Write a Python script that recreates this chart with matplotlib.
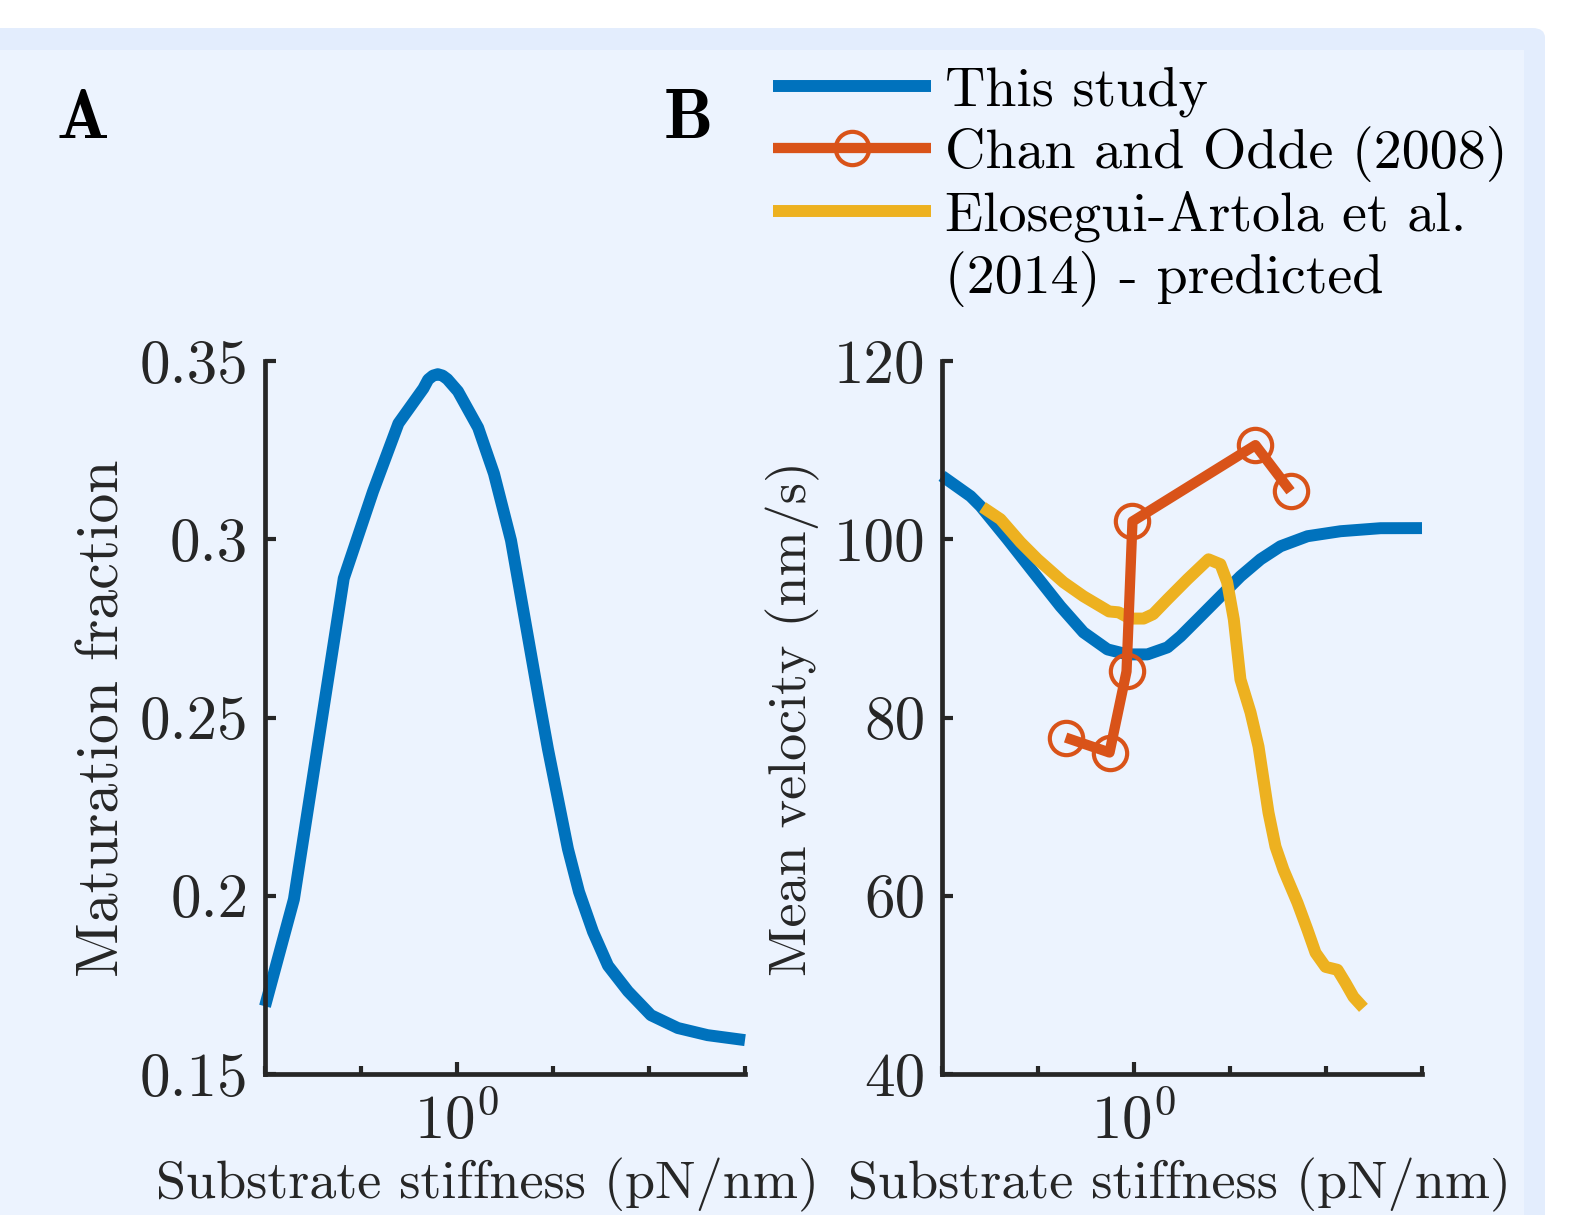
import numpy as np
import matplotlib
matplotlib.use("Agg")
import matplotlib.pyplot as plt
from matplotlib.patches import FancyBboxPatch, Rectangle
from matplotlib.lines import Line2D
from matplotlib.ticker import FixedLocator, FixedFormatter, NullFormatter

# ---------------- data ----------------
# Panel A: maturation fraction vs substrate stiffness (pN/nm)
a_stiffness = [0.01, 0.020, 0.0661, 0.1334, 0.2455, 0.4467, 0.501, 0.562, 0.631,
               0.708, 0.794, 1.023, 1.66, 2.427, 3.65, 7.15, 8.87, 11.27, 14.32,
               18.66, 26.1, 37.4, 60.4, 104.7, 199.5, 407, 1000]
a_fraction = [0.169, 0.199, 0.289, 0.3134, 0.3325, 0.3423, 0.3448, 0.3459, 0.3463,
              0.3459, 0.3449, 0.3415, 0.3313, 0.3184, 0.2997, 0.255, 0.2411, 0.2271,
              0.2131, 0.2011, 0.1899, 0.1804, 0.1732, 0.1665, 0.1629, 0.1609, 0.1595]

# Panel B: mean velocity (nm/s)
study_stiffness = [0.01, 0.01982, 0.02518, 0.04808, 0.08974, 0.1714, 0.2979, 0.5297,
                   0.8551, 1.380, 2.234, 3.048, 4.932, 7.962, 12.85, 20.80, 33.57,
                   64.12, 141.6, 369.8, 1000]
study_velocity = [107.1, 104.83, 103.71, 100.0, 96.29, 92.47, 89.55, 87.64, 87.08,
                  87.08, 87.87, 89.10, 91.35, 93.60, 95.84, 97.75, 99.21, 100.34,
                  100.90, 101.24, 101.25]

chan_stiffness = [0.194, 0.556, 0.836, 0.964, 18.4, 42.7]
chan_velocity = [77.75, 76.07, 85.17, 102.0, 110.56, 105.39]

elo_stiffness = [0.02642, 0.04064, 0.06577, 0.09886, 0.1845, 0.2979, 0.5495, 0.6918,
                 0.912, 1.259, 1.585, 2.234, 3.606, 5.970, 7.943, 9.333, 10.96,
                 12.85, 16.37, 19.82, 22.34, 25.18, 29.79, 36.06, 50.47, 64.12,
                 77.80, 98.86, 131.8, 159.6, 193.2, 245.5]
elo_velocity = [103.6, 102.25, 99.66, 97.75, 95.17, 93.60, 91.9, 91.8,
                91.1, 91.1, 91.6, 93.26, 95.51, 97.75, 97.2, 95.2, 91.0,
                84.27, 80.56, 76.74, 73.03, 69.33, 65.51, 62.92, 59.21, 56.18,
                53.60, 52.02, 51.69, 50.22, 48.65, 47.42]

labels = ["This study", "Chan and Odde (2008)", "Elosegui-Artola et al.",
          "(2014) - predicted"]
a_yticks = [0.15, 0.2, 0.25, 0.3, 0.35]
a_yticklabels = ["0.15", "0.2", "0.25", "0.3", "0.35"]
b_yticks = [40, 60, 80, 100, 120]
b_yticklabels = ["40", "60", "80", "100", "120"]
xlabel = "Substrate stiffness (pN/nm)"

# ---------------- style ----------------
plt.rcParams["font.family"] = ["cmr10", "DejaVu Serif"]
plt.rcParams["mathtext.fontset"] = "cm"
plt.rcParams["axes.unicode_minus"] = False

BLUE = "#0072BD"
ORANGE = "#D95319"
YELLOW = "#EDB120"
DARK = "#262626"
W, H = 1578, 1215
DPI = 100

fig = plt.figure(figsize=(W / DPI, H / DPI), dpi=DPI)
fig.patch.set_facecolor("white")

# background panels
outer = FancyBboxPatch((-0.05, -0.05), 0.05 + 1545 / W, 1.05 - 28 / H,
                       boxstyle="round,pad=0,rounding_size=0.008",
                       transform=fig.transFigure, facecolor="#E3EDFD",
                       edgecolor="none", zorder=-10)
fig.add_artist(outer)
inner = Rectangle((-0.05, -0.05), 0.05 + 1524 / W, 1.05 - 50 / H,
                  transform=fig.transFigure, facecolor="#ECF3FE",
                  edgecolor="none", zorder=-9)
fig.add_artist(inner)

LW = 8.6
TICK_FS = 44
LAB_FS = 39
AX_TOP, AX_BOT = 361, 1074


def make_axes(left_px, right_px):
    ax = fig.add_axes([left_px / W, 1 - AX_BOT / H, (right_px - left_px) / W,
                       (AX_BOT - AX_TOP) / H])
    ax.set_facecolor("none")
    ax.set_xscale("log")
    ax.set_xlim(1e-2, 1e3)
    for s in ["top", "right"]:
        ax.spines[s].set_visible(False)
    for s in ["left", "bottom"]:
        ax.spines[s].set_linewidth(3.4)
        ax.spines[s].set_color(DARK)
        ax.spines[s].set_capstyle("projecting")
    ax.xaxis.set_major_locator(FixedLocator([1.0]))
    ax.xaxis.set_major_formatter(FixedFormatter([r"$10^0$"]))
    ax.xaxis.set_minor_locator(FixedLocator([1e-2, 1e-1, 1e1, 1e2, 1e3]))
    ax.xaxis.set_minor_formatter(NullFormatter())
    ax.tick_params(axis="x", which="major", direction="in", length=9, width=3,
                   colors=DARK, labelsize=TICK_FS, pad=14)
    ax.tick_params(axis="x", which="minor", direction="in", length=6, width=3,
                   colors=DARK)
    ax.tick_params(axis="y", which="major", direction="in", length=8, width=3,
                   colors=DARK, labelsize=TICK_FS, pad=12)
    ax.set_xlabel(xlabel, fontsize=LAB_FS, color=DARK)
    return ax


def ylab_y():
    return (AX_BOT - 718) / (AX_BOT - AX_TOP)


XLAB_Y = -(1158 - AX_BOT) / (AX_BOT - AX_TOP)

# ---------------- panel A ----------------
axA = make_axes(265, 745)
axA.plot(a_stiffness, a_fraction, color=BLUE, lw=LW, solid_capstyle="butt",
         solid_joinstyle="round", clip_on=False)
axA.set_ylim(0.15, 0.35)
axA.yaxis.set_major_locator(FixedLocator(a_yticks))
axA.yaxis.set_major_formatter(FixedFormatter(a_yticklabels))
axA.set_ylabel("Maturation fraction", fontsize=43, color=DARK)
axA.yaxis.set_label_coords((131 - 265) / 480, ylab_y())
axA.xaxis.set_label_coords((487 - 265) / 480, XLAB_Y)

# ---------------- panel B ----------------
axB = make_axes(942, 1422)
hs, = axB.plot(study_stiffness, study_velocity, color=BLUE, lw=LW,
               solid_capstyle="butt", solid_joinstyle="round", clip_on=False)
he, = axB.plot(elo_stiffness, elo_velocity, color=YELLOW, lw=LW,
               solid_capstyle="butt", solid_joinstyle="round", clip_on=False)
hc, = axB.plot(chan_stiffness, chan_velocity, color=ORANGE, lw=7.4,
               marker="o", ms=24, mfc="none", mec=ORANGE, mew=3.0,
               solid_capstyle="butt", solid_joinstyle="round", clip_on=False)
axB.set_ylim(40, 120)
axB.yaxis.set_major_locator(FixedLocator(b_yticks))
axB.yaxis.set_major_formatter(FixedFormatter(b_yticklabels))
axB.set_ylabel("Mean velocity (nm/s)", fontsize=LAB_FS, color=DARK)
axB.yaxis.set_label_coords((820 - 942) / 480, ylab_y())
axB.xaxis.set_label_coords((1180 - 942) / 480, XLAB_Y)

# ---------------- panel letters ----------------
fig.text(83 / W, 1 - 121 / H, "A", fontsize=50, family="cmb10",
         ha="center", va="center", color="black")
fig.text(688 / W, 1 - 121 / H, "B", fontsize=50, family="cmb10",
         ha="center", va="center", color="black")

# ---------------- legend ----------------
blank = Line2D([], [], color="none")
leg = fig.legend([hs, hc, he, blank], labels,
                 loc="upper left", bbox_to_anchor=(773 / W, 1 - 66 / H),
                 frameon=False, fontsize=40.3, handlelength=2.82,
                 handletextpad=0.25, labelspacing=0.16, borderpad=0,
                 borderaxespad=0, numpoints=1)
for t in leg.get_texts():
    t.set_color("black")

fig.savefig("out.png", dpi=DPI, facecolor=fig.get_facecolor())
